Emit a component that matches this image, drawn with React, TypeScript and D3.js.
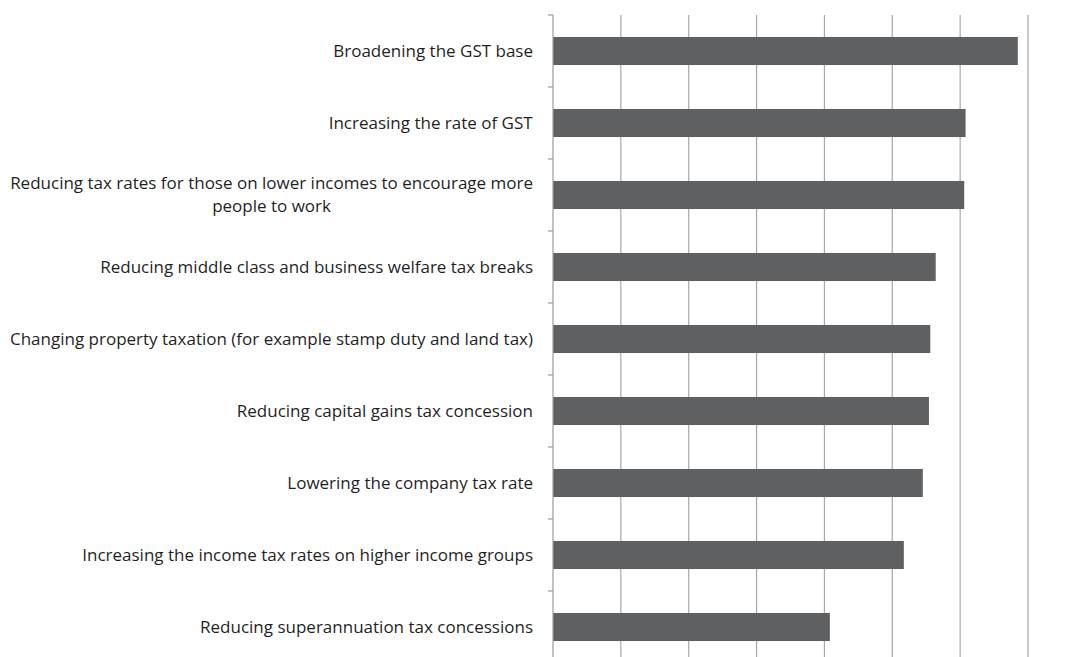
/*eslint-disable*/
import React, { useEffect, useRef } from 'react';
import * as d3 from 'd3';

const categories = [
  'Broadening the GST base',
  'Increasing the rate of GST',
  'Reducing tax rates for those on lower incomes to encourage more|people to work',
  'Reducing middle class and business welfare tax breaks',
  'Changing property taxation (for example stamp duty and land tax)',
  'Reducing capital gains tax concession',
  'Lowering the company tax rate',
  'Increasing the income tax rates on higher income groups',
  'Reducing superannuation tax concessions',
];
const values = [6.85, 6.08, 6.06, 5.64, 5.56, 5.54, 5.45, 5.17, 4.08];
const gridTicks = [1, 2, 3, 4, 5, 6, 7];

const App: React.FC = () => {
  const svgRef = useRef<SVGSVGElement>(null);
  useEffect(() => {
    const W = 1083, H = 657;
    const left = 553, right = 1028, top = 15;
    const band = 72;

    const svg = d3.select(svgRef.current).attr('width', W).attr('height', H);
    svg.selectAll('*').remove();

    const x = d3.scaleLinear().domain([0, 7]).range([left, right]);
    const y = d3.scaleBand<string>()
      .domain(categories)
      .range([top, top + band * categories.length])
      .paddingInner(0.61)
      .paddingOuter(0.305);

    // gridlines
    svg.append('g').selectAll('line')
      .data(gridTicks)
      .enter().append('line')
      .attr('x1', d => x(d)).attr('x2', d => x(d))
      .attr('y1', top).attr('y2', H)
      .attr('stroke', '#a8a8a8').attr('stroke-width', 1.2);

    // bars
    svg.append('g').selectAll('rect')
      .data(categories)
      .enter().append('rect')
      .attr('x', x(0))
      .attr('y', d => y(d)!)
      .attr('width', (d, i) => x(values[i]) - x(0))
      .attr('height', y.bandwidth())
      .attr('fill', '#5f6062');

    // axis line + category boundary ticks
    svg.append('line')
      .attr('x1', left).attr('x2', left)
      .attr('y1', top).attr('y2', H)
      .attr('stroke', '#9a9a9a').attr('stroke-width', 1.2);

    svg.append('g').selectAll('line')
      .data(d3.range(categories.length + 1))
      .enter().append('line')
      .attr('x1', left - 5).attr('x2', left)
      .attr('y1', i => top + i * band).attr('y2', i => top + i * band)
      .attr('stroke', '#9a9a9a').attr('stroke-width', 1.2);

    // labels
    const labels = svg.append('g')
      .attr('font-family', '"Open Sans", sans-serif')
      .attr('font-size', 17)
      .attr('fill', '#1f1f1f')
      .attr('text-anchor', 'middle');

    categories.forEach(c => {
      const lines = c.split('|');
      const cy = y(c)! + y.bandwidth() / 2;
      const lh = 23;
      const t = labels.append('text');
      lines.forEach((ln, j) => {
        t.append('tspan')
          .attr('x', 0)
          .attr('y', cy + (j - (lines.length - 1) / 2) * lh)
          .attr('dy', '0.35em')
          .text(ln);
      });
    });
    // centre each label block on its widest line, right edge at 533
    labels.selectAll<SVGTextElement, unknown>('text').each(function () {
      const bb = this.getBBox();
      const cx = 533 - bb.width / 2;
      d3.select(this).selectAll('tspan').attr('x', cx);
    });
  }, []);

  return <svg ref={svgRef} style={{ position: 'absolute', left: 0, top: 0 }}></svg>;
};

export default App;
